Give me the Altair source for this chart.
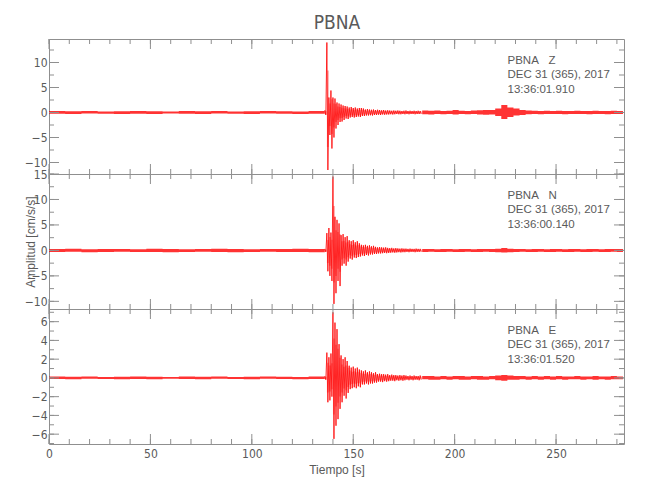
import altair as alt
import pandas as pd

FONT = "Liberation Sans, Arial, sans-serif"
NARROW = "Liberation Sans Narrow, DejaVu Sans Condensed, Liberation Sans, sans-serif"
RED = "#ff0000"
TXT = "#5a5a5a"
AX = "#8f8f8f"
W, H = 575, 135
T_MAX = 283.5

# time bins (s): pre-event, event (1 s bins), post-event
PRE_T0, PRE_STEP = 0, 8
EVT_T0, EVT_STEP = 136, 1
POST_T0, POST_STEP = 184, 3

x_major = [0, 50, 100, 150, 200, 250]
x_minor = [0, 10, 20, 30, 40, 50, 60, 70, 80, 90, 100, 110, 120, 130, 140,
           150, 160, 170, 180, 190, 200, 210, 220, 230, 240, 250, 260, 270, 280]

# ---------------- Z component (envelope max / min per bin) ----------------
z_pre_hi = [0.3, 0.25, 0.3, 0.2, 0.25, 0.3, 0.25, 0.2, 0.3, 0.25, 0.3, 0.2, 0.25, 0.3, 0.25, 0.2, 0.3]
z_pre_lo = [-0.25, -0.3, -0.2, -0.25, -0.3, -0.25, -0.3, -0.2, -0.25, -0.3, -0.2, -0.25, -0.3, -0.2, -0.25, -0.3, -0.25]
z_evt_hi = [0.5, 14.0, 3.0, 4.4, 3.0, 2.8, 2.0, 1.8, 1.6, 1.4,
            1.3, 1.2, 1.0, 1.1, 0.9, 1.0, 0.8, 0.9, 0.9, 0.8,
            0.6, 0.7, 0.6, 0.55, 0.6, 0.5, 0.55, 0.5, 0.45, 0.5,
            0.4, 0.45, 0.4, 0.35, 0.4, 0.35, 0.4, 0.35, 0.3, 0.35,
            0.4, 0.3, 0.35, 0.3, 0.35, 0.3, 0.35, 0.3]
z_evt_lo = [-0.5, -11.5, -4.5, -7.2, -5.0, -3.2, -2.5, -1.9, -1.8, -1.5,
            -1.2, -1.3, -1.0, -0.9, -1.0, -0.9, -0.8, -0.9, -0.7, -0.7,
            -0.6, -0.6, -0.55, -0.6, -0.5, -0.5, -0.45, -0.5, -0.4, -0.45,
            -0.4, -0.4, -0.35, -0.4, -0.35, -0.3, -0.35, -0.35, -0.3, -0.35,
            -0.3, -0.35, -0.3, -0.3, -0.35, -0.3, -0.3, -0.3]
z_post_hi = [0.4, 0.35, 0.4, 0.3, 0.35, 0.5, 0.35, 0.3, 0.4, 0.45, 0.5, 0.5, 0.8, 1.5, 1.0, 0.8,
             0.5, 0.4, 0.35, 0.3, 0.35, 0.3, 0.35, 0.3, 0.3, 0.35, 0.3, 0.3, 0.35, 0.3, 0.3, 0.35, 0.3]
z_post_lo = [-0.35, -0.4, -0.3, -0.35, -0.3, -0.4, -0.3, -0.35, -0.3, -0.4, -0.45, -0.4, -0.7, -1.3, -0.9, -0.6,
             -0.5, -0.35, -0.3, -0.35, -0.3, -0.3, -0.3, -0.35, -0.3, -0.3, -0.3, -0.35, -0.3, -0.3, -0.35, -0.3, -0.3]

# ---------------- N component ----------------
n_pre_hi = [0.3, 0.35, 0.25, 0.3, 0.3, 0.25, 0.35, 0.3, 0.25, 0.3, 0.35, 0.3, 0.25, 0.3, 0.3, 0.35, 0.3]
n_pre_lo = [-0.3, -0.25, -0.35, -0.3, -0.25, -0.3, -0.3, -0.35, -0.3, -0.25, -0.3, -0.35, -0.3, -0.25, -0.3, -0.3, -0.35]
n_evt_hi = [0.3, 3.4, 4.4, 3.5, 14.5, 6.6, 6.0, 5.3, 3.0, 3.2,
            2.6, 2.8, 2.0, 1.8, 2.0, 1.6, 1.8, 1.4, 1.1, 1.0,
            1.1, 0.9, 1.0, 0.8, 0.9, 0.7, 0.6, 0.65, 0.6, 0.55,
            0.6, 0.5, 0.45, 0.5, 0.4, 0.45, 0.4, 0.35, 0.4, 0.35,
            0.35, 0.3, 0.35, 0.3, 0.3, 0.35, 0.3, 0.3]
n_evt_lo = [-0.3, -4.1, -5.0, -6.0, -10.5, -8.4, -6.0, -7.0, -3.0, -2.6,
            -3.0, -2.2, -1.6, -1.8, -1.4, -1.5, -1.3, -1.2, -1.0, -1.1,
            -0.9, -1.0, -0.8, -0.8, -0.7, -0.7, -0.6, -0.6, -0.55, -0.5,
            -0.55, -0.5, -0.45, -0.4, -0.45, -0.4, -0.35, -0.4, -0.35, -0.35,
            -0.3, -0.35, -0.3, -0.3, -0.35, -0.3, -0.3, -0.3]
n_post_hi = [0.3, 0.3, 0.25, 0.3, 0.3, 0.25, 0.3, 0.3, 0.25, 0.3, 0.3, 0.3, 0.35, 0.45, 0.35, 0.3,
             0.3, 0.25, 0.3, 0.3, 0.25, 0.3, 0.3, 0.25, 0.3, 0.3, 0.25, 0.3, 0.3, 0.25, 0.3, 0.3, 0.3]
n_post_lo = [-0.3, -0.25, -0.3, -0.3, -0.25, -0.3, -0.3, -0.25, -0.3, -0.3, -0.25, -0.3, -0.35, -0.4, -0.35, -0.3,
             -0.25, -0.3, -0.3, -0.25, -0.3, -0.3, -0.25, -0.3, -0.3, -0.25, -0.3, -0.3, -0.25, -0.3, -0.3, -0.25, -0.3]

# ---------------- E component ----------------
e_pre_hi = [0.15, 0.12, 0.15, 0.1, 0.12, 0.15, 0.12, 0.1, 0.15, 0.12, 0.15, 0.1, 0.12, 0.15, 0.12, 0.1, 0.15]
e_pre_lo = [-0.12, -0.15, -0.1, -0.12, -0.15, -0.12, -0.15, -0.1, -0.12, -0.15, -0.1, -0.12, -0.15, -0.1, -0.12, -0.15, -0.12]
e_evt_hi = [0.2, 2.7, 2.2, 2.6, 7.0, 5.9, 5.2, 3.6, 2.4, 2.0,
            2.2, 1.8, 1.3, 1.1, 1.2, 1.0, 1.1, 0.9, 0.8, 0.7,
            0.8, 0.6, 0.7, 0.6, 0.5, 0.6, 0.4, 0.45, 0.4, 0.4,
            0.35, 0.4, 0.3, 0.35, 0.3, 0.3, 0.25, 0.3, 0.25, 0.3,
            0.25, 0.2, 0.25, 0.2, 0.25, 0.2, 0.2, 0.25]
e_evt_lo = [-0.2, -2.6, -2.4, -2.0, -6.5, -5.1, -4.4, -3.3, -2.6, -1.9,
            -2.2, -1.6, -1.2, -1.1, -1.0, -1.1, -0.9, -1.0, -0.7, -0.7,
            -0.6, -0.7, -0.6, -0.6, -0.5, -0.5, -0.4, -0.4, -0.45, -0.35,
            -0.4, -0.35, -0.3, -0.3, -0.35, -0.25, -0.3, -0.25, -0.3, -0.25,
            -0.2, -0.25, -0.2, -0.25, -0.2, -0.2, -0.25, -0.2]
e_post_hi = [0.2, 0.2, 0.15, 0.2, 0.15, 0.2, 0.2, 0.15, 0.2, 0.2, 0.15, 0.2, 0.25, 0.3, 0.25, 0.2,
             0.2, 0.15, 0.2, 0.15, 0.2, 0.15, 0.2, 0.15, 0.15, 0.2, 0.15, 0.15, 0.2, 0.15, 0.15, 0.2, 0.15]
e_post_lo = [-0.15, -0.2, -0.2, -0.15, -0.2, -0.15, -0.2, -0.2, -0.15, -0.2, -0.2, -0.15, -0.25, -0.3, -0.2, -0.2,
             -0.15, -0.2, -0.15, -0.2, -0.15, -0.2, -0.15, -0.2, -0.15, -0.15, -0.2, -0.15, -0.2, -0.15, -0.2, -0.15, -0.15]

labels_z = ["PBNA\u00a0\u00a0\u00a0Z", "DEC 31 (365), 2017", "13:36:01.910"]
labels_n = ["PBNA\u00a0\u00a0\u00a0N", "DEC 31 (365), 2017", "13:36:00.140"]
labels_e = ["PBNA\u00a0\u00a0\u00a0E", "DEC 31 (365), 2017", "13:36:01.520"]

dom_z = [-12.3, 14.7]
dom_n = [-11.5, 15.0]
dom_e = [-7.05, 7.35]
major_z = [-10, -5, 0, 5, 10]
minor_z = [-10, -7.5, -5, -2.5, 0, 2.5, 5, 7.5, 10, 12.5]
major_n = [-10, -5, 0, 5, 10, 15]
minor_n = [-10, -7.5, -5, -2.5, 0, 2.5, 5, 7.5, 10, 12.5, 15]
major_e = [-6, -4, -2, 0, 2, 4, 6]
minor_e = [-7, -6, -5, -4, -3, -2, -1, 0, 1, 2, 3, 4, 5, 6, 7]


def frames(pre_hi, pre_lo, evt_hi, evt_lo, post_hi, post_lo):
    """Zigzag trace + light band for the event bins, step band for quiet bins."""
    pts, quiet, evt = [], [], []
    for name, t0, step, his, los in [("pre", PRE_T0, PRE_STEP, pre_hi, pre_lo),
                                     ("post", POST_T0, POST_STEP, post_hi, post_lo)]:
        for i, (h, l) in enumerate(zip(his, los)):
            t = t0 + i * step
            quiet.append({"t": t, "a": h, "a2": l, "seg": name})
            quiet.append({"t": t + step * 0.999, "a": h, "a2": l, "seg": name})
    for i, (h, l) in enumerate(zip(evt_hi, evt_lo)):
        t = EVT_T0 + i * EVT_STEP
        pts.append({"t": t, "a": h})
        pts.append({"t": t + EVT_STEP / 2, "a": l})
        evt.append({"t": t, "a": h * 0.6, "a2": l * 0.6})
        evt.append({"t": t + EVT_STEP * 0.999, "a": h * 0.6, "a2": l * 0.6})
    return pd.DataFrame(pts), pd.DataFrame(quiet), pd.DataFrame(evt)


def panel(trace, dom, ymaj, ymin, lines, show_x=False, ytitle="", title=""):
    pts, quiet, evt = trace
    xs = alt.Scale(domain=[0, T_MAX], nice=False, zero=False)
    ys = alt.Scale(domain=dom, nice=False, zero=False)
    if show_x:
        xenc = alt.X("t:Q", scale=xs, axis=alt.Axis(
            values=x_major, ticks=False, tickSize=0, domain=False, grid=False,
            labelFlush=False, labelPadding=4, format="d",
            title="Tiempo [s]", titlePadding=5))
    else:
        xenc = alt.X("t:Q", scale=xs, axis=None)
    ykw = dict(values=ymaj, ticks=False, tickSize=0, domain=False, grid=False,
               labelPadding=2, format="d")
    if ytitle:
        ykw.update(title=ytitle, titleX=-19, titleY=H / 2, titleAngle=270,
                   titleAlign="center", titleBaseline="middle")
    else:
        ykw.update(title="")
    yenc = alt.Y("a:Q", scale=ys, axis=alt.Axis(**ykw))

    band_q = alt.Chart(quiet).mark_area(color=RED, opacity=0.8, clip=True).encode(
        x=xenc, y=yenc, y2="a2:Q", detail="seg:N")
    band_e = alt.Chart(evt).mark_area(color=RED, opacity=0.3, clip=True).encode(
        x=xenc, y=yenc, y2="a2:Q")
    line = alt.Chart(pts).mark_line(color=RED, strokeWidth=0.8, clip=True).encode(
        x=xenc, y=yenc)

    xmaj = pd.DataFrame({"t": x_major})
    xmin = pd.DataFrame({"t": x_minor})
    ymj = pd.DataFrame({"a": ymaj})
    ymn = pd.DataFrame({"a": ymin})
    rk = dict(color=AX, strokeWidth=1)
    ticks = [
        alt.Chart(xmaj).mark_rule(**rk).encode(x=xenc, y=alt.value(H), y2=alt.value(H - 10)),
        alt.Chart(xmaj).mark_rule(**rk).encode(x=xenc, y=alt.value(0), y2=alt.value(10)),
        alt.Chart(xmin).mark_rule(**rk).encode(x=xenc, y=alt.value(H), y2=alt.value(H - 5)),
        alt.Chart(xmin).mark_rule(**rk).encode(x=xenc, y=alt.value(0), y2=alt.value(5)),
        alt.Chart(ymj).mark_rule(**rk).encode(y=yenc, x=alt.value(0), x2=alt.value(10)),
        alt.Chart(ymj).mark_rule(**rk).encode(y=yenc, x=alt.value(W), x2=alt.value(W - 10)),
        alt.Chart(ymn).mark_rule(**rk).encode(y=yenc, x=alt.value(0), x2=alt.value(5)),
        alt.Chart(ymn).mark_rule(**rk).encode(y=yenc, x=alt.value(W), x2=alt.value(W - 5)),
    ]
    texts = []
    for s, py in zip(lines, [25, 39, 54]):
        texts.append(alt.Chart(pd.DataFrame({"s": [s]})).mark_text(
            align="left", baseline="alphabetic", font=FONT, fontSize=11.5, color=TXT
        ).encode(text="s:N", x=alt.value(458.5), y=alt.value(py)))
    if title:
        texts.append(alt.Chart(pd.DataFrame({"s": [title]})).mark_text(
            align="center", baseline="alphabetic", font=NARROW, fontSize=19, color=TXT
        ).encode(text="s:N", x=alt.value(W / 2 + 0.5), y=alt.value(-10.5)))
    return alt.layer(band_q, band_e, line, *ticks, *texts).properties(width=W, height=H)


p1 = panel(frames(z_pre_hi, z_pre_lo, z_evt_hi, z_evt_lo, z_post_hi, z_post_lo),
           dom_z, major_z, minor_z, labels_z, title="PBNA")
p2 = panel(frames(n_pre_hi, n_pre_lo, n_evt_hi, n_evt_lo, n_post_hi, n_post_lo),
           dom_n, major_n, minor_n, labels_n, ytitle="Amplitud [cm/s/s]")
p3 = panel(frames(e_pre_hi, e_pre_lo, e_evt_hi, e_evt_lo, e_post_hi, e_post_lo),
           dom_e, major_e, minor_e, labels_e, show_x=True)

chart = alt.vconcat(
    p1, p2, p3, spacing=0, bounds="flush",
    padding={"left": 15, "top": 5, "right": 5, "bottom": 5}
).configure_view(
    stroke=AX, strokeWidth=1
).configure_axis(
    labelFont=NARROW, labelFontSize=12, labelColor=TXT,
    titleFont=FONT, titleFontSize=12, titleColor=TXT, titleFontWeight="normal"
)

chart.save("out.html", embed_options={"renderer": "svg", "actions": False})
